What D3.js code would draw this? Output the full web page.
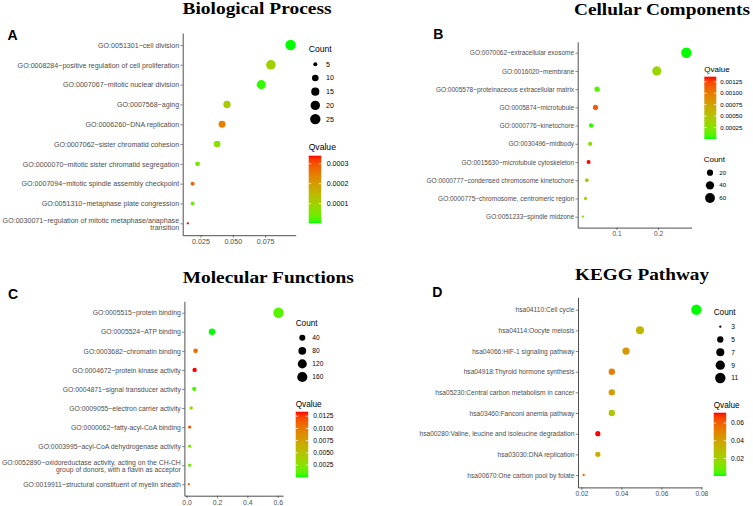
<!DOCTYPE html>
<html><head><meta charset="utf-8">
<script src="https://cdn.jsdelivr.net/npm/d3@7/dist/d3.min.js"></script>
<style>body{margin:0;background:#fff}svg{display:block}</style>
</head><body>
<svg id="chart" width="753" height="506"></svg>
<script>
// ================= DATA =================
// Panel A – Biological Process
const bpTerms = [
  "GO:0051301~cell division",
  "GO:0008284~positive regulation of cell proliferation",
  "GO:0007067~mitotic nuclear division",
  "GO:0007568~aging",
  "GO:0006260~DNA replication",
  "GO:0007062~sister chromatid cohesion",
  "GO:0000070~mitotic sister chromatid segregation",
  "GO:0007094~mitotic spindle assembly checkpoint",
  "GO:0051310~metaphase plate congression",
  "GO:0030071~regulation of mitotic metaphase/anaphase\ntransition"
];
const bpRatio  = [0.0947, 0.0795, 0.0720, 0.0455, 0.0417, 0.0379, 0.0227, 0.0189, 0.0189, 0.0152];
const bpCount  = [25, 21, 19, 12, 11, 10, 6, 5, 5, 4];
const bpQvalue = [0.000002, 0.00010, 0.00001, 0.00011, 0.00024, 0.00007, 0.00005, 0.00028, 0.00004, 0.00034];
const bpXTicks = [0.025, 0.050, 0.075];
const bpCountBreaks = [5, 10, 15, 20, 25];
const bpQBreaks = [0.0001, 0.0002, 0.0003];

// Panel B – Cellular Components
const ccTerms = [
  "GO:0070062~extracellular exosome",
  "GO:0016020~membrane",
  "GO:0005578~proteinaceous extracellular matrix",
  "GO:0005874~microtubule",
  "GO:0000776~kinetochore",
  "GO:0030496~midbody",
  "GO:0015630~microtubule cytoskeleton",
  "GO:0000777~condensed chromosome kinetochore",
  "GO:0000775~chromosome, centromeric region",
  "GO:0051233~spindle midzone"
];
const ccRatio  = [0.268, 0.197, 0.0535, 0.0496, 0.039, 0.0367, 0.0329, 0.0288, 0.0256, 0.0192];
const ccCount  = [69, 51, 14, 13, 10, 9, 8, 7, 6, 5];
const ccQvalue = [0.000001, 0.00035, 0.00010, 0.00115, 0.00003, 0.00028, 0.00136, 0.00048, 0.00034, 0.00017];
const ccXTicks = [0.1, 0.2];
const ccCountBreaks = [20, 40, 60];
const ccQBreaks = [0.00025, 0.00050, 0.00075, 0.00100, 0.00125];

// Panel C – Molecular Functions
const mfTerms = [
  "GO:0005515~protein binding",
  "GO:0005524~ATP binding",
  "GO:0003682~chromatin binding",
  "GO:0004672~protein kinase activity",
  "GO:0004871~signal transducer activity",
  "GO:0009055~electron carrier activity",
  "GO:0000062~fatty-acyl-CoA binding",
  "GO:0003995~acyl-CoA dehydrogenase activity",
  "GO:0052890~oxidoreductase activity, acting on the CH-CH\ngroup of donors, with a flavin as acceptor",
  "GO:0019911~structural constituent of myelin sheath"
];
const mfRatio  = [0.605, 0.167, 0.059, 0.053, 0.050, 0.030, 0.020, 0.020, 0.020, 0.015];
const mfCount  = [170, 47, 17, 15, 14, 8, 6, 6, 6, 4];
const mfQvalue = [0.0010, 0.00002, 0.0107, 0.0134, 0.0007, 0.0033, 0.0118, 0.0020, 0.0014, 0.0108];
const mfXTicks = [0.0, 0.2, 0.4, 0.6];
const mfCountBreaks = [40, 80, 120, 160];
const mfQBreaks = [0.0025, 0.0050, 0.0075, 0.0100, 0.0125];

// Panel D – KEGG Pathway
const kgTerms = [
  "hsa04110:Cell cycle",
  "hsa04114:Oocyte meiosis",
  "hsa04066:HIF-1 signaling pathway",
  "hsa04918:Thyroid hormone synthesis",
  "hsa05230:Central carbon metabolism in cancer",
  "hsa03460:Fanconi anemia pathway",
  "hsa00280:Valine, leucine and isoleucine degradation",
  "hsa03030:DNA replication",
  "hsa00670:One carbon pool by folate"
];
const kgRatio  = [0.0775, 0.0493, 0.0423, 0.0352, 0.0352, 0.0352, 0.0282, 0.0282, 0.0211];
const kgCount  = [11, 7, 6, 5, 5, 5, 4, 4, 3];
const kgQvalue = [0.0002, 0.032, 0.043, 0.052, 0.042, 0.025, 0.0716, 0.036, 0.061];
const kgXTicks = [0.02, 0.04, 0.06, 0.08];
const kgCountBreaks = [3, 5, 7, 9, 11];
const kgQBreaks = [0.02, 0.04, 0.06];

// ================= LAYOUT / STYLE =================
const qLow = "#00FF00", qHigh = "#FF0000";
const sansFont = "'Liberation Sans', Arial, sans-serif";
const serifFont = "'Liberation Serif', 'Times New Roman', serif";

const panels = [
  { id:"A", terms:bpTerms, ratio:bpRatio, count:bpCount, q:bpQvalue, xTicks:bpXTicks, xFmt:".3f",
    countBreaks:bpCountBreaks, qBreaks:bpQBreaks, qFmt:".4f",
    fs:7.1, lfs:8.6, lls:7.1,
    x0:182.7, x1:295.7, y0:33.1, y1:235.2,
    title:"Biological Process", tX:257, tY:14, tW:149, lX:7.5, lY:40,
    cnt:{x:308.7, titleY:52, y0:64.3, step:13.7, cx:315.3, lx:326},
    ql:{x:308.7, titleY:150.3, top:155.7, bottom:223.3, w:12.5, lx:326.7} },
  { id:"B", terms:ccTerms, ratio:ccRatio, count:ccCount, q:ccQvalue, xTicks:ccXTicks, xFmt:".1f",
    countBreaks:ccCountBreaks, qBreaks:ccQBreaks, qFmt:".5f",
    fs:6.5, lfs:8.0, lls:6.1,
    x0:577.7, x1:691.5, y0:41.8, y1:227.6,
    title:"Cellular Components", tX:662, tY:15, tW:176, lX:433.3, lY:39,
    cnt:{x:703.7, titleY:162.1, y0:172.7, step:12.65, cx:710, lx:719.3},
    ql:{x:704.3, titleY:71.8, top:76.7, bottom:139, w:12, lx:720.3} },
  { id:"C", terms:mfTerms, ratio:mfRatio, count:mfCount, q:mfQvalue, xTicks:mfXTicks, xFmt:".1f",
    countBreaks:mfCountBreaks, qBreaks:mfQBreaks, qFmt:".4f",
    fs:6.85, lfs:8.2, lls:6.6,
    x0:184.4, x1:283, y0:301.3, y1:495.7,
    title:"Molecular Functions", tX:268.3, tY:283.3, tW:171, lX:8, lY:299.3,
    cnt:{x:295.7, titleY:326.2, y0:337.7, step:13.1, cx:302.3, lx:312.3},
    ql:{x:295.7, titleY:407.2, top:411.7, bottom:477.3, w:12.5, lx:313.3} },
  { id:"D", terms:kgTerms, ratio:kgRatio, count:kgCount, q:kgQvalue, xTicks:kgXTicks, xFmt:".2f",
    countBreaks:kgCountBreaks, qBreaks:kgQBreaks, qFmt:".2f",
    fs:6.65, lfs:8.2, lls:6.6,
    x0:578, x1:702, y0:297.3, y1:487.4,
    title:"KEGG Pathway", tX:642, tY:280, tW:134, lX:432.3, lY:296.7,
    cnt:{x:713.7, titleY:315.2, y0:326.7, step:12.83, cx:720.3, lx:731.3},
    ql:{x:713.7, titleY:407.6, top:412.7, bottom:476, w:12.5, lx:731} }
];

const svg = d3.select("#chart");
const defs = svg.append("defs");

panels.forEach(p => {
  const g = svg.append("g");

  // x scale with ggplot-style 5% expansion
  const [xmin, xmax] = d3.extent(p.ratio);
  const pad = (xmax - xmin) * 0.05;
  const x = d3.scaleLinear().domain([xmin - pad, xmax + pad]).range([p.x0, p.x1]);
  const y = d3.scalePoint().domain(p.terms).range([p.y0, p.y1]).padding(0.6);

  // size scale: ggplot area palette (sqrt of rescaled value)
  const cExt = d3.extent(p.count);
  const norm = d3.scaleLinear().domain(cExt).range([0, 1]).clamp(true);
  const diam = d3.scaleLinear().domain([0, 1]).range([2.3, 10.4]);
  const radius = c => diam(Math.sqrt(norm(c))) / 2;

  // colour scale
  const qExt = d3.extent(p.q);
  const color = d3.scaleLinear().domain(qExt).range([qLow, qHigh]).interpolate(d3.interpolateLab);

  // title & letter
  svg.append("text").attr("x", p.tX).attr("y", p.tY).attr("text-anchor", "middle")
    .attr("font-family", serifFont).attr("font-weight", "bold").attr("font-size", 17)
    .attr("textLength", p.tW).attr("lengthAdjust", "spacingAndGlyphs")
    .attr("fill", "#000").text(p.title);
  svg.append("text").attr("x", p.lX).attr("y", p.lY)
    .attr("font-family", sansFont).attr("font-weight", "bold").attr("font-size", 14)
    .attr("fill", "#000").text(p.id);

  // axes
  const xAxis = d3.axisBottom(x).tickValues(p.xTicks).tickFormat(d3.format(p.xFmt))
    .tickSize(2.5).tickPadding(1.5).tickSizeOuter(0);
  const yAxis = d3.axisLeft(y).tickSize(2.3).tickPadding(1.3).tickSizeOuter(0);

  const gx = g.append("g").attr("transform", `translate(0,${p.y1})`).call(xAxis);
  const gy = g.append("g").attr("transform", `translate(${p.x0},0)`).call(yAxis);
  [gx, gy].forEach(a => {
    a.select(".domain").attr("stroke", "#222").attr("stroke-width", 0.8);
    a.selectAll(".tick line").attr("stroke", "#333").attr("stroke-width", 0.6);
    a.selectAll(".tick text").attr("fill", "#4d4d4d").attr("font-size", p.fs).attr("font-family", sansFont);
  });
  gy.selectAll(".tick text").each(function(d) {
    if (d.includes("\n")) {
      const t = d3.select(this);
      const lines = d.split("\n");
      t.text("").attr("dy", null);
      lines.forEach((ln, i) => {
        t.append("tspan").attr("x", -3.6).attr("y", i === 0 ? -0.5 : 6.5).text(ln);
      });
    }
  });

  // points
  g.append("g").selectAll("circle").data(p.terms).join("circle")
    .attr("cx", (d, i) => x(p.ratio[i]))
    .attr("cy", d => y(d))
    .attr("r", (d, i) => radius(p.count[i]))
    .attr("fill", (d, i) => color(p.q[i]));

  // Count legend
  const cl = p.cnt;
  g.append("text").attr("x", cl.x).attr("y", cl.titleY).attr("font-family", sansFont)
    .attr("font-size", p.lfs).attr("fill", "#000").text("Count");
  p.countBreaks.forEach((b, i) => {
    const cy = cl.y0 + i * cl.step;
    g.append("circle").attr("cx", cl.cx).attr("cy", cy).attr("r", radius(b)).attr("fill", "#000");
    g.append("text").attr("x", cl.lx).attr("y", cy + p.lls * 0.35).attr("font-family", sansFont)
      .attr("font-size", p.lls).attr("fill", "#000").text(b);
  });

  // Qvalue colourbar legend
  const ql = p.ql;
  g.append("text").attr("x", ql.x).attr("y", ql.titleY).attr("font-family", sansFont)
    .attr("font-size", p.lfs).attr("fill", "#000").text("Qvalue");
  const grad = defs.append("linearGradient").attr("id", "grad" + p.id)
    .attr("x1", 0).attr("y1", 1).attr("x2", 0).attr("y2", 0);
  d3.range(0, 1.0001, 0.05).forEach(t => {
    grad.append("stop").attr("offset", t).attr("stop-color", d3.interpolateLab(qLow, qHigh)(t));
  });
  g.append("rect").attr("x", ql.x).attr("y", ql.top).attr("width", ql.w)
    .attr("height", ql.bottom - ql.top).attr("fill", `url(#grad${p.id})`);
  const qy = d3.scaleLinear().domain(qExt).range([ql.bottom, ql.top]);
  p.qBreaks.forEach(b => {
    const yy = qy(b);
    g.append("line").attr("x1", ql.x).attr("x2", ql.x + ql.w / 5).attr("y1", yy).attr("y2", yy)
      .attr("stroke", "#fff").attr("stroke-width", 0.7);
    g.append("line").attr("x1", ql.x + ql.w * 4 / 5).attr("x2", ql.x + ql.w).attr("y1", yy).attr("y2", yy)
      .attr("stroke", "#fff").attr("stroke-width", 0.7);
    g.append("text").attr("x", ql.lx).attr("y", yy + p.lls * 0.35).attr("font-family", sansFont)
      .attr("font-size", p.lls).attr("fill", "#000").text(d3.format(p.qFmt)(b));
  });
});
</script>
</body></html>
